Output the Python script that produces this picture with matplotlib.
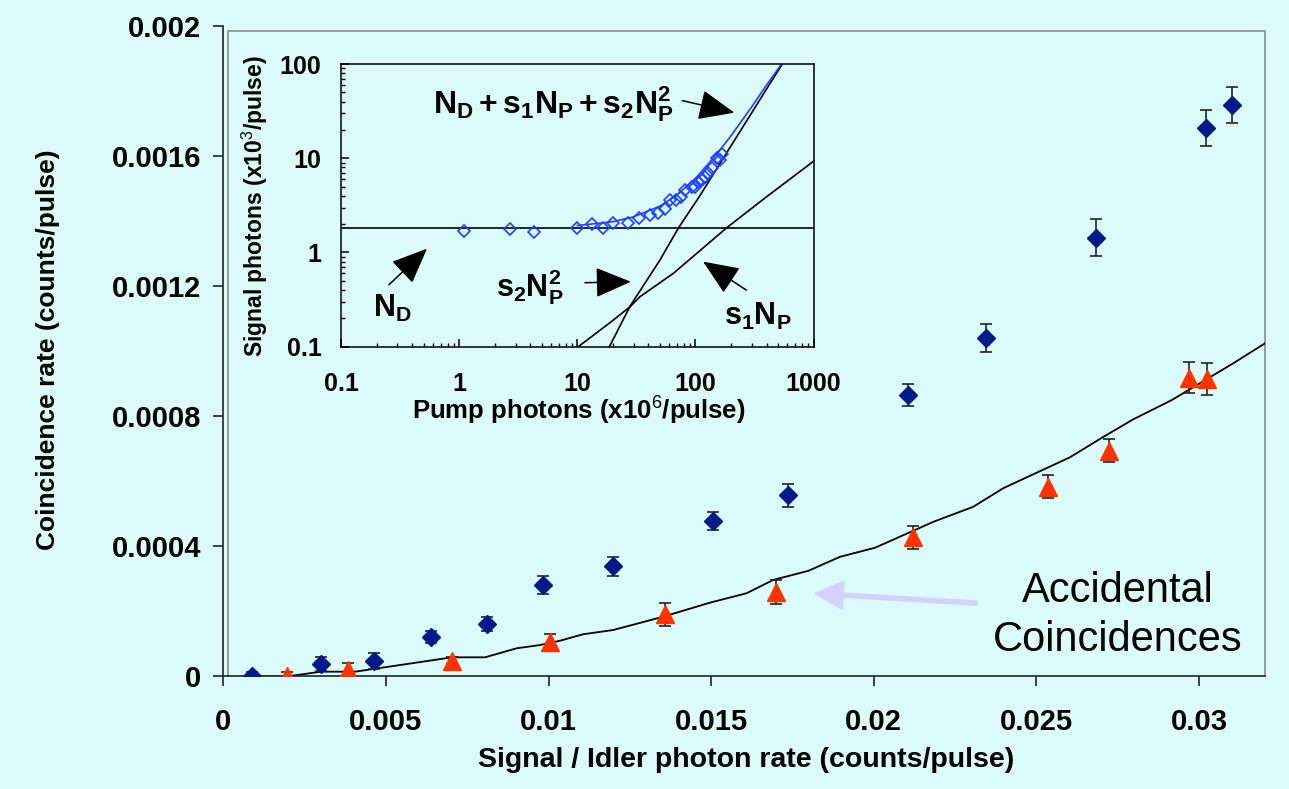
import numpy as np
import matplotlib.pyplot as plt
from matplotlib.ticker import LogLocator, NullFormatter, FixedLocator

plt.rcParams['font.family'] = ['Liberation Sans', 'DejaVu Sans']
plt.rcParams['mathtext.fontset'] = 'custom'
plt.rcParams['mathtext.rm'] = 'Liberation Sans'
plt.rcParams['mathtext.bf'] = 'Liberation Sans:bold'
plt.rcParams['mathtext.it'] = 'Liberation Sans:italic'

# --- main plot data: coincidences vs signal/idler rate ---
coinc_x = [0.00089, 0.0030, 0.00463, 0.00639, 0.0081, 0.00984, 0.01199, 0.01507,
           0.01735, 0.02106, 0.02344, 0.02683, 0.03021, 0.0310]
coinc_y = [0.000002, 0.0000375, 0.0000477, 0.000122, 0.000161, 0.000281, 0.000339,
           0.000479, 0.000557, 0.000866, 0.001041, 0.00135, 0.001687, 0.001758]
coinc_err = [0.000013, 0.0000215, 0.0000246, 0.0000194, 0.0000225, 0.0000277, 0.0000286,
             0.0000283, 0.0000344, 0.0000347, 0.0000421, 0.0000563, 0.0000553, 0.0000553]

acc_x = [0.00197, 0.00384, 0.00704, 0.01004, 0.01357, 0.01698, 0.02122, 0.02535,
         0.02723, 0.0297, 0.03024]
acc_y = [0.0, 0.00002, 0.0000486, 0.000105, 0.000191, 0.00026, 0.000428, 0.000584,
         0.000695, 0.000919, 0.000915]
acc_err = [0.000015, 0.0000225, 0.00001, 0.0000246, 0.000036, 0.0000369, 0.000036,
           0.0000354, 0.0000344, 0.0000486, 0.0000492]

# calculated accidental rate (solid line)
calc_x = [0.0009, 0.00195, 0.0030, 0.00405, 0.00704, 0.00805, 0.00902, 0.00974, 0.01035,
          0.01107, 0.01199, 0.01353, 0.01496, 0.01609, 0.01691, 0.01799, 0.01896, 0.02004,
          0.02184, 0.02306, 0.02398, 0.02603, 0.02706, 0.02798, 0.02916, 0.03105, 0.03202]
calc_y = [0, 0, 0.0000148, 0.0000148, 0.000059, 0.000059, 0.0000867, 0.0000968, 0.00011,
          0.00013, 0.000143, 0.000184, 0.000227, 0.000256, 0.000297, 0.000325, 0.000368,
          0.000396, 0.000476, 0.000522, 0.000579, 0.000674, 0.000737, 0.000791, 0.00085,
          0.000963, 0.001024]

x_ticks = [0, 0.005, 0.01, 0.015, 0.02, 0.025, 0.03]
x_ticklabels = ['0', '0.005', '0.01', '0.015', '0.02', '0.025', '0.03']
y_ticks = [0, 0.0004, 0.0008, 0.0012, 0.0016, 0.002]
y_ticklabels = ['0', '0.0004', '0.0008', '0.0012', '0.0016', '0.002']

# --- inset data: signal photons vs pump photons ---
pump = [1.1, 2.7, 4.3, 10, 13.4, 16.4, 20.2, 27, 33.5, 41, 48, 55, 61, 69, 76, 82,
        93, 100, 106, 113, 120, 128, 137, 151, 160, 167]
signal = [1.7, 1.76, 1.66, 1.82, 2.0, 1.8, 2.07, 2.04, 2.3, 2.5, 2.6, 2.87, 3.6, 3.6,
          3.9, 4.6, 4.9, 5.0, 5.6, 5.9, 6.4, 7.0, 7.8, 10, 9.5, 11.1]
n_dark = 1.83

fit_np = [10, 20, 30, 50, 70, 100, 150, 200, 300, 400, 545]
fit_sig = [1.93, 2.12, 2.39, 3.1, 4.1, 6.1, 10.9, 17.3, 35.2, 59.9, 103]
quad_np = [18.7, 28, 50, 72, 109, 209, 300, 420, 560]
quad_sig = [0.1, 0.27, 0.83, 1.83, 4.0, 14.8, 30.5, 60, 106]
lin_np = [10.2, 20, 28, 34, 65, 184, 400, 1000]
lin_sig = [0.1, 0.19, 0.266, 0.34, 0.6, 1.83, 3.9, 9.3]

bg = '#dbfbfb'
fig = plt.figure(figsize=(12.89, 7.89), dpi=100, facecolor=bg)

# main axes
ax = fig.add_axes([0.17323, 0.14259, 0.80815, 0.82421])
ax.set_facecolor(bg)
ax.set_xlim(0, 0.03203)
ax.set_ylim(0, 0.002)

ax.plot(calc_x, calc_y, color='black', lw=1.3, zorder=2)
ax.errorbar(coinc_x, coinc_y, yerr=coinc_err, fmt='D', ms=9, color='#001a8c',
            ecolor='#222222', elinewidth=1.2, capsize=4.5, capthick=1.2, zorder=3)
ax.errorbar(acc_x, acc_y, yerr=acc_err, fmt='^', ms=12.5, color='#ff3300',
            ecolor='#222222', elinewidth=1.2, capsize=4.5, capthick=1.2, zorder=3)

ax.set_xticks(x_ticks)
ax.set_xticklabels(x_ticklabels)
ax.set_yticks(y_ticks)
ax.set_yticklabels(y_ticklabels)
ax.tick_params(axis='both', direction='out', length=7, width=1.2, color='#222222',
               labelsize=21)
ax.tick_params(axis='x', pad=16)
ax.tick_params(axis='y', pad=9)
for lab in ax.get_xticklabels() + ax.get_yticklabels():
    lab.set_fontweight('bold')

ax.spines['top'].set_visible(False)
ax.spines['right'].set_visible(False)
ax.spines['left'].set_color('#222222')
ax.spines['bottom'].set_color('#222222')
ax.spines['left'].set_linewidth(1.2)
ax.spines['bottom'].set_linewidth(1.2)
# grey plot-area border
ax.plot([0.0045, 0.0045, 1, 1], [0, 0.9923, 0.9923, 0], transform=ax.transAxes,
        color='#8c8c8c', lw=1.2, clip_on=False, zorder=1)

fig.text(746 / 1289, 1 - 767 / 789, 'Signal / Idler photon rate (counts/pulse)',
         ha='center', va='baseline', fontsize=20.5, fontweight='bold')
fig.text(48 / 1289, 1 - 350 / 789, 'Coincidence rate (counts/pulse)', rotation=90,
         ha='center', va='center', fontsize=19, fontweight='bold')

ax.annotate('', xy=(0.01806, 0.000256), xytext=(0.02327, 0.000225),
            arrowprops=dict(arrowstyle='simple,head_length=1.1,head_width=1.1,tail_width=0.2',
                            mutation_scale=20, color='#d2d2fa', lw=0))
ax.text(0.0275, 0.0002299, 'Accidental', ha='center', va='baseline', fontsize=30)
ax.text(0.0275, 0.0000793, 'Coincidences', ha='center', va='baseline', fontsize=30)

# inset axes
ins = fig.add_axes([0.26455, 0.56058, 0.36664, 0.3583])
ins.set_facecolor(bg)
ins.set_xscale('log')
ins.set_yscale('log')
ins.set_xlim(0.1, 1000)
ins.set_ylim(0.1, 100)

ins.axhline(n_dark, color='black', lw=1.2)
ins.plot(lin_np, lin_sig, color='black', lw=1.2)
ins.plot(quad_np, quad_sig, color='black', lw=1.2)
ins.plot(fit_np, fit_sig, color='#1f3fff', lw=1.2)
ins.plot(pump, signal, 'D', ms=6.5, mfc='none', mec='#1f3fff', mew=1.2)

ins.xaxis.set_major_locator(FixedLocator([0.1, 1, 10, 100, 1000]))
ins.set_xticklabels(['0.1', '1', '10', '100', '1000'])
ins.yaxis.set_major_locator(FixedLocator([0.1, 1, 10, 100]))
ins.set_yticklabels(['0.1', '1', '10', '100'])
ins.xaxis.set_minor_locator(LogLocator(base=10, subs=np.arange(2, 10)))
ins.yaxis.set_minor_locator(LogLocator(base=10, subs=np.arange(2, 10)))
ins.xaxis.set_minor_formatter(NullFormatter())
ins.yaxis.set_minor_formatter(NullFormatter())
ins.tick_params(which='major', direction='in', length=6, width=1.1, labelsize=18)
ins.tick_params(which='minor', direction='in', length=3, width=1.0)
ins.tick_params(axis='x', which='major', pad=18)
ins.tick_params(axis='y', which='major', pad=14)
for lab in ins.get_xticklabels() + ins.get_yticklabels():
    lab.set_fontweight('bold')
for s in ins.spines.values():
    s.set_color('black')
    s.set_linewidth(1.1)

fig.text(579 / 1289, 1 - 420 / 789, 'Pump photons (x10$^6$/pulse)',
         ha='center', va='baseline', fontsize=18.5, fontweight='bold')
fig.text(255 / 1289, 1 - 206 / 789, 'Signal photons (x10$^3$/pulse)', rotation=90,
         ha='center', va='center', fontsize=16.5, fontweight='bold')

head = '-|>,head_length=0.9,head_width=0.38'
ins.text(6.3, 38, r'$\mathbf{N_D + s_1 N_P + s_2 N_P^2}$', ha='center', va='center',
         fontsize=23)
ins.annotate('', xy=(225, 30), xytext=(73.6, 41.5),
             arrowprops=dict(arrowstyle=head, mutation_scale=25, color='black', lw=1.1))
ins.text(0.273, 0.256, r'$\mathbf{N_D}$', ha='center', va='center', fontsize=22)
ins.annotate('', xy=(0.556, 1.15), xytext=(0.245, 0.434),
             arrowprops=dict(arrowstyle=head, mutation_scale=25, color='black', lw=1.1))
ins.text(4.0, 0.434, r'$\mathbf{s_2 N_P^2}$', ha='center', va='center', fontsize=22)
ins.annotate('', xy=(30, 0.49), xytext=(11, 0.477),
             arrowprops=dict(arrowstyle=head, mutation_scale=25, color='black', lw=1.1))
ins.text(338, 0.208, r'$\mathbf{s_1 N_P}$', ha='center', va='center', fontsize=22)
ins.annotate('', xy=(111, 0.83), xytext=(282, 0.384),
             arrowprops=dict(arrowstyle=head, mutation_scale=25, color='black', lw=1.1))

fig.savefig('out.png', dpi=100, facecolor=bg)
